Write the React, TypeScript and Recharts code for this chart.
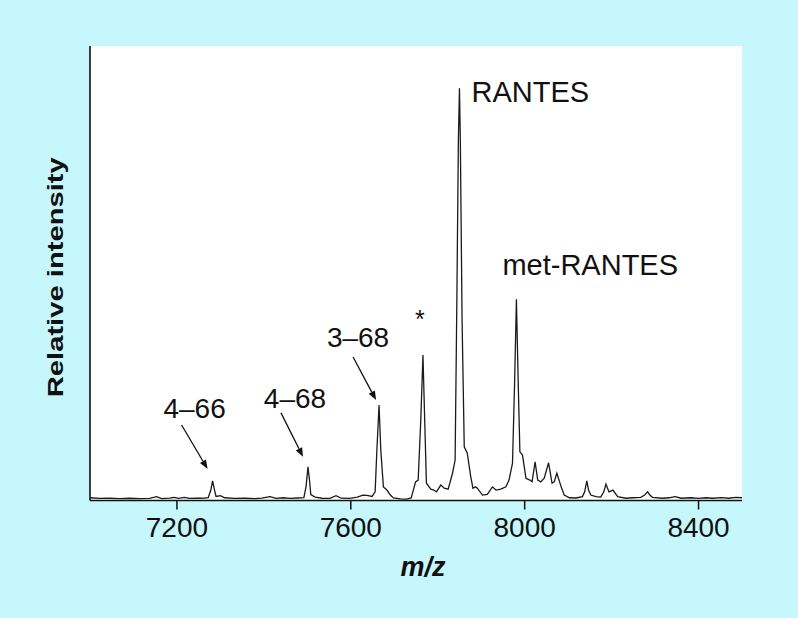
import {
  LineChart,
  Line,
  XAxis,
  YAxis,
  CartesianGrid,
  ReferenceDot,
  Label,
} from 'recharts'

// m/z positions of the traced spectrum points
const MZ = [
  7000, 7022, 7045, 7068, 7091, 7114, 7137, 7153, 7165, 7183,
  7194, 7204, 7217, 7229, 7248, 7264, 7272, 7278, 7282, 7286,
  7290, 7300, 7310, 7333, 7356, 7379, 7395, 7414, 7428, 7445,
  7460, 7478, 7492, 7497, 7501.5, 7505, 7508, 7518, 7534, 7552,
  7566, 7578, 7598, 7615, 7628, 7637, 7649, 7656, 7660, 7665,
  7669, 7675, 7683, 7691, 7698, 7714, 7729, 7739, 7749, 7755,
  7761, 7766, 7770, 7774, 7784, 7791, 7797, 7807, 7815, 7824,
  7834, 7840, 7844, 7847.5, 7850, 7852, 7856, 7861, 7868, 7876,
  7881, 7887, 7891, 7903, 7914, 7926, 7934, 7945, 7957, 7964,
  7972, 7977, 7981, 7985, 7989, 7995, 8003, 8012, 8017, 8024,
  8030, 8037, 8045, 8055, 8063, 8068, 8074, 8084, 8091, 8103,
  8118, 8133, 8138, 8143, 8147, 8152, 8164, 8175, 8182, 8187,
  8194, 8203, 8214, 8233, 8249, 8267, 8276, 8283, 8288, 8294,
  8317, 8332, 8346, 8360, 8383, 8400, 8417, 8433, 8452, 8470,
  8486, 8500,
]

// relative intensity (0-100) at each m/z above
const INTENSITY = [
  0.6, 0.45, 0.5, 0.4, 0.5, 0.4, 0.45, 0.85, 0.4, 0.5,
  0.7, 0.45, 0.7, 0.45, 0.5, 0.55, 0.65, 2.3, 4.3, 2.5,
  0.9, 1.05, 0.6, 0.45, 0.5, 0.4, 0.5, 0.85, 0.45, 0.6,
  0.45, 0.55, 0.65, 3.0, 7.4, 4.5, 1.3, 0.75, 0.5, 0.45,
  1.05, 0.5, 0.45, 0.75, 1.2, 1.15, 0.9, 1.9, 11.1, 21.0,
  11.1, 3.0, 2.3, 1.2, 0.55, 0.35, 0.3, 0.55, 4.1, 4.5,
  17.7, 32.0, 17.7, 3.8, 2.5, 2.3, 1.9, 3.4, 2.7, 2.5,
  6.0, 8.9, 44.1, 79.3, 90.7, 79.3, 39.7, 11.8, 10.4, 5.2,
  2.7, 3.0, 2.7, 1.2, 1.35, 3.0, 2.3, 2.5, 3.0, 4.5,
  8.2, 26.5, 44.3, 26.5, 10.7, 10.0, 4.9, 4.5, 4.1, 8.5,
  4.5, 4.1, 4.9, 8.3, 3.8, 4.1, 6.0, 3.0, 1.2, 0.6,
  0.55, 0.85, 1.9, 4.3, 2.3, 1.2, 0.85, 0.75, 1.9, 3.6,
  1.9, 2.3, 0.85, 0.5, 0.6, 0.7, 1.2, 1.9, 1.2, 0.7,
  0.5, 0.6, 0.85, 0.5, 0.6, 0.45, 0.6, 0.5, 0.65, 0.5,
  0.7, 0.6,
]

const X_TICKS = [7200, 7600, 8000, 8400]

// annotated peaks
const PEAK_LABELS = ['4–66', '4–68', '3–68', '*', 'RANTES', 'met-RANTES']
const PEAK_MZ = [7282, 7501.5, 7665, 7766, 7850, 7981]
const PEAK_HEIGHT = [4.3, 7.4, 21.0, 32.0, 90.7, 44.3]

const FONT = '"Liberation Sans", Arial, Helvetica, sans-serif'
const INK = '#111'

// where each note sits relative to its peak apex (px)
const NOTE_STYLE: Record<string, any> = {
  '4–66': { dx: -18, dy: -63, anchor: 'middle', size: 28, arrow: [-31, -56, -5, -12] },
  '4–68': { dx: -13, dy: -59, anchor: 'middle', size: 28, arrow: [-27, -54, -5, -10] },
  '3–68': { dx: -21, dy: -58, anchor: 'middle', size: 28, arrow: [-26, -48, -3, -5] },
  '*': { dx: -3, dy: -27, anchor: 'middle', size: 25, arrow: null },
  RANTES: { dx: 12, dy: 14, anchor: 'start', size: 29, arrow: null },
  'met-RANTES': { dx: -14, dy: -24, anchor: 'start', size: 29, arrow: null },
}

const data = MZ.map((mz, i) => ({ mz, intensity: INTENSITY[i] }))

function PeakNote({ cx, cy, label }: { cx: number; cy: number; label: string }) {
  const s = NOTE_STYLE[label]
  let arrow = null
  if (s.arrow) {
    const [x1, y1, x2, y2] = s.arrow.map((v: number, k: number) => v + (k % 2 ? cy : cx))
    const len = Math.hypot(x2 - x1, y2 - y1)
    const ux = (x2 - x1) / len
    const uy = (y2 - y1) / len
    const bx = x2 - ux * 9
    const by = y2 - uy * 9
    const pts = `${x2},${y2} ${bx - uy * 3.5},${by + ux * 3.5} ${bx + uy * 3.5},${by - ux * 3.5}`
    arrow = (
      <g>
        <line x1={x1} y1={y1} x2={bx} y2={by} stroke={INK} strokeWidth={1.3} />
        <polygon points={pts} fill={INK} />
      </g>
    )
  }
  return (
    <g>
      {arrow}
      <text
        x={cx + s.dx}
        y={cy + s.dy}
        textAnchor={s.anchor}
        fontSize={s.size}
        fontFamily={FONT}
        fill={INK}
      >
        {label}
      </text>
    </g>
  )
}

export default function App() {
  return (
    <div
      style={{
        position: 'fixed',
        left: 0,
        top: 0,
        width: 798,
        height: 618,
        background: '#c5f7fc',
      }}
    >
      <LineChart
        width={798}
        height={618}
        data={data}
        margin={{ top: 46, right: 56, left: 0, bottom: 0 }}
      >
        <CartesianGrid fill="#fff" horizontal={false} vertical={false} stroke="none" />
        <XAxis
          dataKey="mz"
          type="number"
          domain={[7000, 8500]}
          ticks={X_TICKS}
          height={117.5}
          tickSize={9}
          tickMargin={8}
          axisLine={{ stroke: INK, strokeWidth: 1.6 }}
          tickLine={{ stroke: INK, strokeWidth: 1.5 }}
          tick={{ fontSize: 28, fill: INK, fontFamily: FONT }}
          allowDataOverflow
        >
          <Label
            content={({ viewBox }: any) => (
              <text
                x={viewBox.x + viewBox.width / 2 + 7}
                y={viewBox.y + 75.5}
                textAnchor="middle"
                fontSize={27}
                fontWeight="bold"
                fontStyle="italic"
                fontFamily={FONT}
                fill={INK}
              >
                m/z
              </text>
            )}
          />
        </XAxis>
        <YAxis
          type="number"
          domain={[0, 100]}
          width={90}
          tick={false}
          tickLine={false}
          axisLine={{ stroke: INK, strokeWidth: 1.6 }}
          allowDataOverflow
        >
          <Label
            content={({ viewBox }: any) => {
              const x = viewBox.x + 63
              const y = viewBox.y + viewBox.height / 2 + 4
              return (
                <text
                  x={x}
                  y={y}
                  transform={`rotate(-90, ${x}, ${y})`}
                  textAnchor="middle"
                  fontSize={22}
                  fontWeight="bold"
                  fontFamily={FONT}
                  fill={INK}
                  textLength={240}
                  lengthAdjust="spacingAndGlyphs"
                >
                  Relative intensity
                </text>
              )
            }}
          />
        </YAxis>
        <Line
          type="linear"
          dataKey="intensity"
          stroke="#1a1a1a"
          strokeWidth={1.3}
          dot={false}
          activeDot={false}
          isAnimationActive={false}
        />
        {PEAK_LABELS.map((label, i) => (
          <ReferenceDot
            key={label}
            x={PEAK_MZ[i]}
            y={PEAK_HEIGHT[i]}
            r={0}
            ifOverflow="visible"
            shape={(p: any) => <PeakNote cx={p.cx} cy={p.cy} label={label} />}
          />
        ))}
      </LineChart>
    </div>
  )
}
